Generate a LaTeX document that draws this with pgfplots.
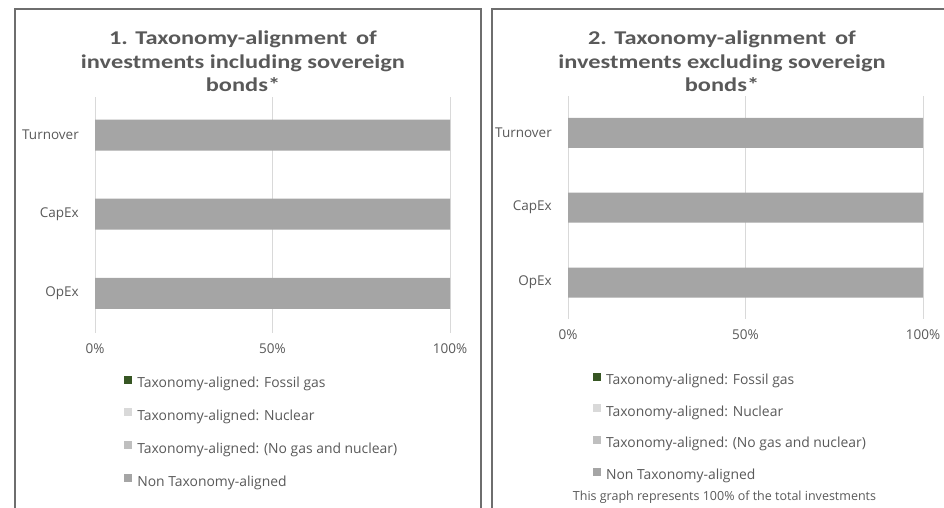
\documentclass[border=0pt]{standalone}
\usepackage{fontspec}
\setmainfont{Open Sans}
\newfontfamily\titlefont{Carlito}[FakeStretch=1.25]
\usepackage{pgfplots}
\pgfplotsset{compat=1.18}

\definecolor{txt}{HTML}{595959}
\definecolor{gridc}{HTML}{D9D9D9}
\definecolor{bordc}{HTML}{6E6E6E}
\definecolor{fossil}{HTML}{375623}
\definecolor{nuclear}{HTML}{D9D9D9}
\definecolor{nogas}{HTML}{BFBFBF}
\definecolor{nontax}{HTML}{A5A5A5}

\pgfplotsset{taxo/.style={
  xbar stacked, scale only axis, width=355pt,
  xmin=0, xmax=100, enlargelimits=false,
  ytick={0,1,2}, yticklabels={OpEx,CapEx,Turnover},
  xtick={0,50,100}, xticklabels={0\%,50\%,100\%},
  xmajorgrids, grid style={draw=gridc, line width=1pt},
  axis line style={draw=none}, major tick length=0pt,
  tick label style={font=\fontsize{13.5}{16}\selectfont, text=txt},
  yticklabel style={inner sep=0pt, xshift=-16pt},
  xticklabel style={inner sep=0pt, yshift=-11pt},
  legend cell align=left,
  legend image code/.code={\fill[##1] (0pt,0.5pt) rectangle (8pt,8.5pt);},
  legend style={draw=none, fill=none, inner sep=0pt, column sep=5pt, anchor=north west,
    nodes={inner sep=0pt, text height=9.5pt, text depth=2.5pt,
      font=\fontsize{13.9}{16}\selectfont, text=txt}},
}}

\begin{document}
\begin{tikzpicture}
\path[use as bounding box] (0,0) rectangle (944pt,508pt);

% panel 1: including sovereign bonds
\begin{axis}[taxo, at={(95pt,175pt)}, anchor=south west, height=236pt,
  bar width=31pt, ymin=-0.5, ymax=2.481,
  legend style={at={(0.082,-0.180)}, row sep=18.3pt}]
\addplot[fill=fossil, draw=none] coordinates {(0,0) (0,1) (0,2)};
\addlegendentry{Taxonomy-aligned: Fossil gas}
\addplot[fill=nuclear, draw=none] coordinates {(0,0) (0,1) (0,2)};
\addlegendentry{Taxonomy-aligned: Nuclear}
\addplot[fill=nogas, draw=none] coordinates {(0,0) (0,1) (0,2)};
\addlegendentry{Taxonomy-aligned: (No gas and nuclear)}
\addplot[fill=nontax, draw=none] coordinates {(100,0) (100,1) (100,2)};
\addlegendentry{Non Taxonomy-aligned}
\end{axis}

% panel 2: excluding sovereign bonds
\begin{axis}[taxo, at={(568pt,189pt)}, anchor=south west, height=223pt,
  bar width=30pt, ymin=-0.487, ymax=2.493,
  legend style={at={(0.070,-0.240)}, row sep=17.1pt}]
\addplot[fill=fossil, draw=none] coordinates {(0,0) (0,1) (0,2)};
\addlegendentry{Taxonomy-aligned: Fossil gas}
\addplot[fill=nuclear, draw=none] coordinates {(0,0) (0,1) (0,2)};
\addlegendentry{Taxonomy-aligned: Nuclear}
\addplot[fill=nogas, draw=none] coordinates {(0,0) (0,1) (0,2)};
\addlegendentry{Taxonomy-aligned: (No gas and nuclear)}
\addplot[fill=nontax, draw=none] coordinates {(100,0) (100,1) (100,2)};
\addlegendentry{Non Taxonomy-aligned}
\end{axis}

% titles
\begin{scope}[every node/.style={anchor=base, text=txt,
    font=\titlefont\bfseries\fontsize{19.5}{24}\selectfont}]
\node at (243pt,463pt) {1. Taxonomy-alignment\, of};
\node at (243pt,439pt) {investments including sovereign};
\node at (243pt,416pt) {bonds*};
\node at (722pt,463pt) {2. Taxonomy-alignment\, of};
\node at (722pt,439pt) {investments excluding sovereign};
\node at (722pt,416pt) {bonds*};
\end{scope}

\node[anchor=base, text=txt, font=\fontsize{12.5}{15}\selectfont]
  at (724.5pt,7pt) {This graph represents 100\% of the total investments};

% panel frames
\draw[bordc, line width=2pt] (14.7pt,-10pt) -- (14.7pt,499.3pt) -- (480.7pt,499.3pt) -- (480.7pt,-10pt);
\draw[bordc, line width=2pt] (492.3pt,-10pt) -- (492.3pt,499.3pt) -- (960pt,499.3pt);
\end{tikzpicture}
\end{document}
